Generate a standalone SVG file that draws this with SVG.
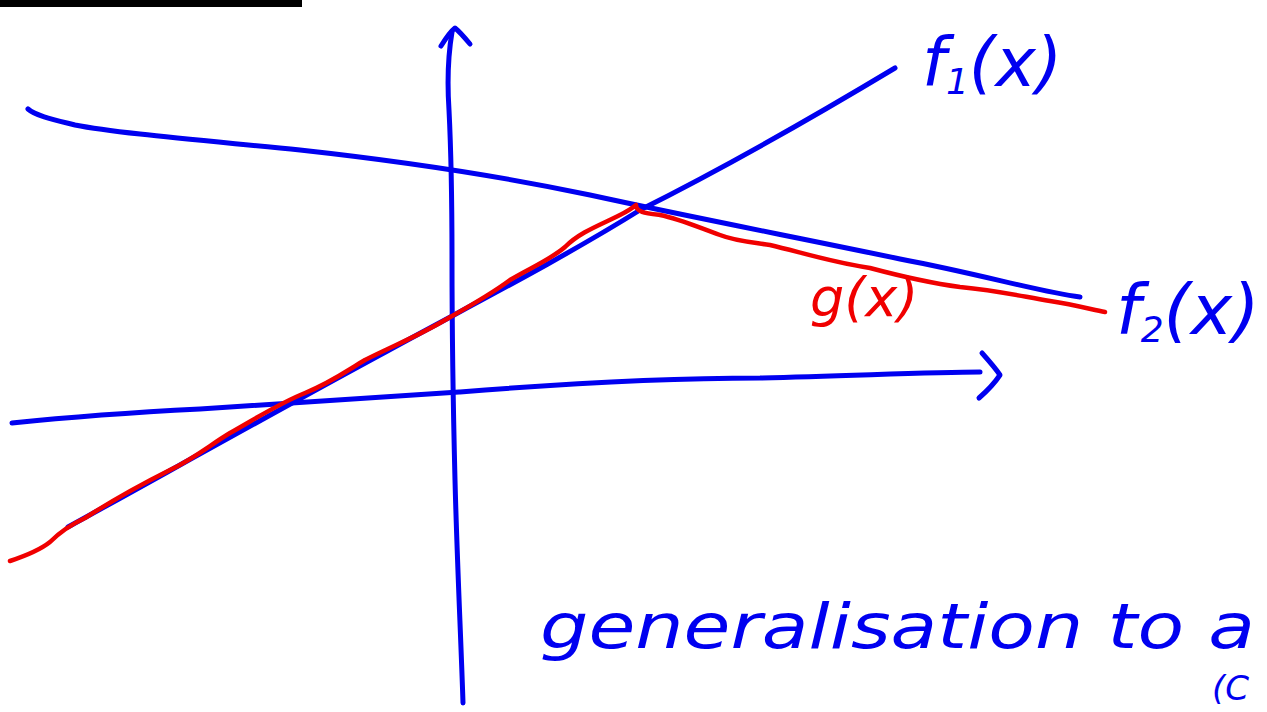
<svg xmlns="http://www.w3.org/2000/svg" width="1267" height="712" viewBox="0 0 1267 712">
<style>
.b{fill:none;stroke:#0000f0;stroke-width:5;stroke-linecap:round;stroke-linejoin:round}
.r{fill:none;stroke:#f00000;stroke-width:4.5;stroke-linecap:round;stroke-linejoin:round}
.tb{fill:#0000f0;font-family:"DejaVu Sans",sans-serif;font-style:italic}
.tr{fill:#f00000;font-family:"DejaVu Sans",sans-serif;font-style:italic}
</style>
<rect x="0" y="0" width="302" height="7" fill="#000"/>
<g id="connectors">
<g id="y-axis">
<path class="b" d="M463,703 C461,640 457,560 455,480 C453,400 452,330 452,260 C452,200 451,150 449,110 C447,80 449,50 452,32"/>
<path class="b" d="M441,46 C446,38 451,31 455,28 C460,32 465,38 470,44"/>
</g>
<g id="x-axis">
<path class="b" d="M12,423 C60,418 120,413 200,409 C300,403 380,398 460,392 C560,384 660,378 760,378 C850,376 930,372 980,372"/>
<path class="b" d="M982,353 C990,362 996,369 1000,375 C994,384 987,391 979,398"/>
</g>
<path id="f1" class="b" d="M68,527 C150,482 260,420 380,355 C460,311 560,260 640,210 C720,170 800,125 895,68"/>
<path id="f2" class="b" d="M28,109 C36,116 55,120 75,125 C115,133 200,140 300,150 C400,161 500,176 590,195 C700,219 800,238 900,259 C980,274 1040,292 1080,297"/>
<path id="g" class="r" d="M10,561 C25,556 40,550 50,542 C60,532 70,525 85,518 C110,502 140,485 170,470 C195,458 210,445 230,433 C260,416 280,403 305,393 C330,383 345,372 365,360 C395,345 420,335 445,320 C470,306 490,295 510,280 C530,268 550,260 565,247 C580,232 600,225 620,215 C630,210 636,205 636,205 C636,212 645,213 660,215 C680,219 700,228 720,235 C735,241 750,242 770,245 C800,252 830,262 870,268 C900,276 930,283 960,287 C1000,291 1020,296 1050,301 C1075,305 1090,309 1105,312"/>
</g>
<g id="label-f1"><text class="tb" x="922" y="86" font-size="68">f<tspan font-size="36" dy="8">1</tspan><tspan dy="-8">(x)</tspan></text></g>
<g id="label-f2"><text class="tb" x="1116" y="334" font-size="70">f<tspan font-size="36" dy="8">2</tspan><tspan dy="-8">(x)</tspan></text></g>
<g id="label-g"><text class="tr" x="810" y="316" font-size="54">g(x)</text></g>
<g id="note">
<text class="tb" x="540" y="648" font-size="62" textLength="715" lengthAdjust="spacingAndGlyphs">generalisation to a</text>
<text class="tb" x="1212" y="700" font-size="34">(C</text>
</g>
</svg>
